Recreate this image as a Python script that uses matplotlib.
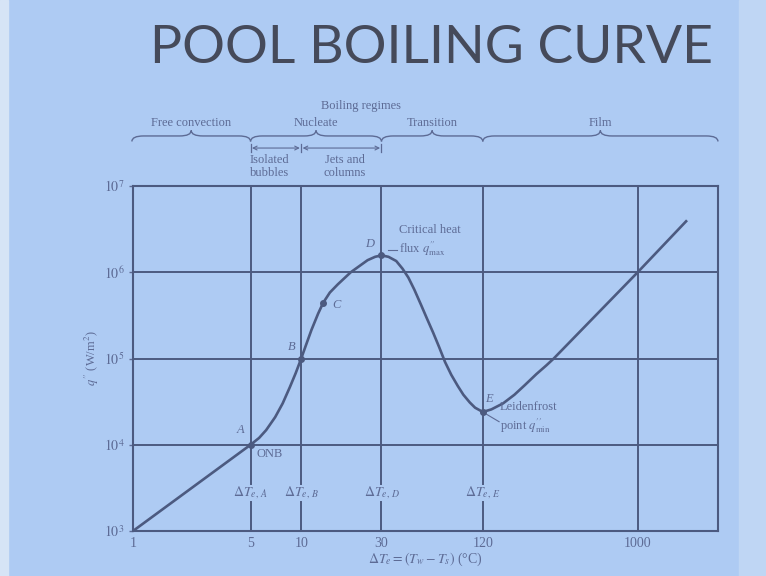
import numpy as np
import matplotlib
matplotlib.use("Agg")
import matplotlib.pyplot as plt
from matplotlib.path import Path
from matplotlib.patches import PathPatch, Rectangle
from matplotlib.transforms import blended_transform_factory

# excess temperature (C) and heat flux (W/m2)
delta_t = [1, 5, 5.62, 6.19, 7.0, 7.76, 8.57, 9.27, 10, 10.7, 11.5, 12.6, 13.5, 14.8,
           16.5, 19.7, 24.8, 27.5, 30, 33.0, 36.7, 40.0, 43.3, 47.0, 51.6, 56.0, 60.8,
           66.1, 71.6, 78.0, 85.3, 92.0, 100.5, 108, 120, 135, 158.5, 185, 213, 250,
           286, 317, 1000, 1940]
heat_flux = [1e3, 1e4, 1.2e4, 1.48e4, 2.09e4, 3.02e4, 4.68e4, 6.76e4, 1e5, 1.45e5,
             2.14e5, 3.31e5, 4.42e5, 5.82e5, 7.24e5, 1.0e6, 1.38e6, 1.51e6, 1.57e6,
             1.51e6, 1.35e6, 1.10e6, 8.7e5, 6.3e5, 4.17e5, 2.88e5, 2.0e5, 1.35e5, 9.1e4,
             6.46e4, 4.79e4, 3.8e4, 3.09e4, 2.69e4, 2.4e4, 2.57e4, 3.02e4, 3.8e4, 4.9e4,
             6.6e4, 8.3e4, 1e5, 1e6, 3.9e6]

# named points on the curve
point_names = ["A", "B", "C", "D", "E"]
point_dt = [5, 10, 13.5, 30, 120]
point_q = [1e4, 1e5, 4.42e5, 1.57e6, 2.4e4]

x_ticks = [1, 5, 10, 30, 120, 1000]
y_ticks = [1e3, 1e4, 1e5, 1e6, 1e7]
grid_x = [5, 10, 30, 120, 1000]
grid_y = [1e4, 1e5, 1e6]
dt_marks = [5, 10, 30, 120]
dt_mark_labels = [r"$\Delta T_{e,\,A}$", r"$\Delta T_{e,\,B}$", r"$\Delta T_{e,\,D}$", r"$\Delta T_{e,\,E}$"]

regime_names = ["Free convection", "Nucleate", "Transition", "Film"]
regime_edges = [1, 5, 30, 120, 3000]
sub_regime_edges = [5, 10, 30]
sub_regime_names = ["Isolated\nbubbles", "Jets and\ncolumns"]

bg = "#aecbf3"
ink = "#4c5a80"
txt = "#5d6b95"

plt.rcParams["font.family"] = ["Liberation Serif", "DejaVu Serif"]
plt.rcParams["mathtext.fontset"] = "stix"

fig = plt.figure(figsize=(7.66, 5.76), dpi=100)
fig.patch.set_facecolor(bg)
# lighter edges of the photographed slide
fig.patches.append(Rectangle((0, 0), 0.011, 1, transform=fig.transFigure, color="#d6e4f6", zorder=0))
fig.patches.append(Rectangle((0.965, 0), 0.035, 1, transform=fig.transFigure, color="#bfd6f4", zorder=0))

fig.text(0.563, 0.915, "POOL BOILING CURVE", ha="center", va="center",
         fontsize=38.5, color="#454a5a", family=["Lato", "DejaVu Sans"])

ax = fig.add_axes([0.1736, 0.0781, 0.7637, 0.5990])
ax.set_facecolor("none")
ax.set_xscale("log")
ax.set_yscale("log")
ax.set_xlim(1, 3000)
ax.set_ylim(1e3, 1e7)

for s in ax.spines.values():
    s.set_color(ink)
    s.set_linewidth(1.5)

# grid, vertical lines broken where the delta T labels sit
gap_lo, gap_hi = 0.084, 0.135
for gx in grid_x:
    if gx in dt_marks:
        ax.axvline(gx, 0, gap_lo, color=ink, lw=1.4)
        ax.axvline(gx, gap_hi, 1, color=ink, lw=1.4)
    else:
        ax.axvline(gx, color=ink, lw=1.4)
for gy in grid_y:
    ax.axhline(gy, color=ink, lw=1.4)

ax.plot(delta_t, heat_flux, color=ink, lw=1.9, zorder=3, solid_joinstyle="round")
ax.plot(point_dt, point_q, "o", color=ink, ms=4, zorder=4)

ax.set_xticks(x_ticks)
ax.set_xticklabels([str(v) for v in x_ticks])
ax.set_yticks(y_ticks)
ax.set_yticklabels([r"$10^{%d}$" % int(np.log10(v)) for v in y_ticks])
ax.minorticks_off()
ax.tick_params(axis="x", length=0, pad=4, labelsize=10, colors=txt)
ax.tick_params(axis="y", length=3, width=1, pad=3, labelsize=10, colors=txt)
ax.set_xlabel(r"$\Delta T_e = (T_w - T_s)$ (°C)", color=txt, fontsize=10, labelpad=1)
ax.set_ylabel(r"$q^{\prime\prime}$ (W/m$^2$)", color=txt, fontsize=9, labelpad=2)

xt = blended_transform_factory(ax.transData, ax.transAxes)
for m, lab in zip(dt_marks, dt_mark_labels):
    ax.text(m, 0.11, lab, transform=xt, ha="center", va="center", fontsize=10, color=txt)

# point labels
ax.text(4.6, 1.25e4, "A", style="italic", fontsize=9, color=txt, ha="right", va="bottom")
ax.text(5.4, 9.2e3, "ONB", fontsize=9, color=txt, ha="left", va="top")
ax.text(9.3, 1.15e5, "B", style="italic", fontsize=9, color=txt, ha="right", va="bottom")
ax.text(15.2, 4.2e5, "C", style="italic", fontsize=9, color=txt, ha="left", va="center")
ax.text(27, 1.8e6, "D", style="italic", fontsize=9, color=txt, ha="right", va="bottom")
ax.text(124, 2.9e4, "E", style="italic", fontsize=9, color=txt, ha="left", va="bottom")
ax.plot([33, 37], [1.8e6, 1.8e6], color=txt, lw=0.8)
ax.text(38, 2.3e6, "Critical heat\n" + r"flux $q^{\prime\prime}_{\rm max}$", fontsize=9,
        color=txt, ha="left", va="center", linespacing=1.3)
ax.plot([122, 150], [2.35e4, 1.85e4], color=txt, lw=0.8)
ax.text(152, 2.05e4, "Leidenfrost\n" + r"point $q^{\prime\prime}_{\rm min}$", fontsize=9,
        color=txt, ha="left", va="center", linespacing=1.3)


# braces for the boiling regimes, drawn above the axes
def to_frac(v):
    lo, hi = np.log10(ax.get_xlim())
    return (np.log10(v) - lo) / (hi - lo)


def brace(x0, x1, y, h=0.016, c=0.02):
    a, b = to_frac(x0), to_frac(x1)
    m = (a + b) / 2
    verts = [(a, y - h), (a, y), (a + c, y), (m - c, y), (m, y), (m, y + h),
             (m, y), (m + c, y), (b - c, y), (b, y), (b, y - h)]
    codes = [Path.MOVETO, Path.CURVE3, Path.CURVE3, Path.LINETO, Path.CURVE3, Path.CURVE3,
             Path.CURVE3, Path.CURVE3, Path.LINETO, Path.CURVE3, Path.CURVE3]
    ax.add_patch(PathPatch(Path(verts, codes), transform=ax.transAxes, fill=False,
                           edgecolor=txt, lw=1.0, clip_on=False))
    return m


left_edge = 0.985
for i, name in enumerate(regime_names):
    x0 = regime_edges[i] if i > 0 else left_edge
    m = brace(x0, regime_edges[i + 1], 1.145)
    ax.text(m, 1.182, name, transform=ax.transAxes, ha="center", va="center",
            fontsize=9, color=txt)
ax.text(0.39, 1.232, "Boiling regimes", transform=ax.transAxes, ha="center",
        va="center", fontsize=9, color=txt)

for i in range(len(sub_regime_names)):
    ax.annotate("", xy=(sub_regime_edges[i], 1.11), xytext=(sub_regime_edges[i + 1], 1.11),
                xycoords=xt, textcoords=xt,
                arrowprops=dict(arrowstyle="<->", color=txt, lw=0.8, shrinkA=1, shrinkB=1,
                                mutation_scale=7))
for e in sub_regime_edges:
    ax.plot([e, e], [1.098, 1.122], transform=xt, color=txt, lw=0.9, clip_on=False)
ax.text(sub_regime_edges[0] * 0.99, 1.094, sub_regime_names[0], transform=xt, ha="left",
        va="top", fontsize=9, color=txt, linespacing=1.2)
ax.text(np.sqrt(sub_regime_edges[1] * sub_regime_edges[2]) * 1.05, 1.094, sub_regime_names[1],
        transform=xt, ha="center", va="top", fontsize=9, color=txt, linespacing=1.2)

fig.savefig("out.png", dpi=100, facecolor=fig.get_facecolor())
